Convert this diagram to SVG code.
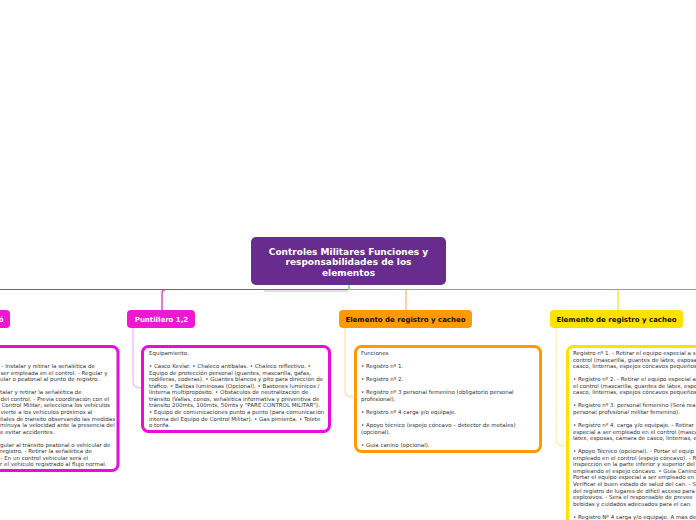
<svg xmlns="http://www.w3.org/2000/svg" width="696" height="520" viewBox="0 0 696 520">
<style>
.title{font-family:"DejaVu Sans",Verdana,sans-serif;font-weight:bold;font-size:9px;fill:#fff;text-anchor:middle}
.lab{font-family:"DejaVu Sans",Verdana,sans-serif;font-weight:bold;font-size:7px;text-anchor:middle}
.body{font-family:"DejaVu Sans",Verdana,sans-serif;font-size:5.5px;fill:#333}
.box{fill:#fff;stroke-width:3}
.conn{fill:none;stroke-width:1.2}
</style>
<rect width="696" height="520" fill="#fff"/>
<g id="connectors">
  <path class="conn" d="M0,289.5 H348" stroke="#e01ccc" stroke-width="1.4"/>
  <path class="conn" d="M264,291 H348" stroke="#cf9ee8" stroke-width="1.2" opacity="0.8"/>
  <path class="conn" d="M349,285 V289.5 H696" stroke="#3ee02a" stroke-width="1.6"/>
  <path class="conn" d="M162,310 V293 Q162,290 165,290" stroke="#e01ccc"/>
  <path class="conn" d="M406,310 V290" stroke="#ffb64a"/>
  <path class="conn" d="M618,310 V290" stroke="#ffe100"/>
  <path class="conn" d="M133,328 V382 Q133,388 141,388" stroke="#f7b3ee"/>
  <path class="conn" d="M345,328 V391 Q345,397 354,397" stroke="#ffdca8"/>
  <path class="conn" d="M556,328 V440 Q556,446 566,446" stroke="#fff0a0"/>
</g>
<g id="title">
  <rect x="251" y="237" width="195" height="48" rx="5" fill="#682c8f"/>
  <text class="title"><tspan x="348.5" y="254.5">Controles Militares Funciones y</tspan><tspan x="348.5" y="265">responsabilidades de los</tspan><tspan x="348.5" y="275.5">elementos</tspan></text>
</g>
<g id="node-left">
  <rect x="-20" y="310" width="30" height="18" rx="4" fill="#ec1acf"/>
  <text class="lab" x="3.5" y="322" style="text-anchor:end;fill:#fff">ó</text>
  <rect class="box" x="-100" y="346.5" width="218" height="124" rx="6" stroke="#ec0adc"/>
  <text class="body">
    <tspan x="1.5" y="368.1">- Instalar y retirar la señalética de</tspan>
    <tspan x="0.5" y="374.65">ser empleada en el control. - Regular y</tspan>
    <tspan x="0" y="381.2">ular o peatonal al punto de registro.</tspan>
    <tspan x="0" y="394.3">talar y retirar la señalética de</tspan>
    <tspan x="0.5" y="400.85">del control. - Previa coordinación con el</tspan>
    <tspan x="1.5" y="407.4">Control Militar, selecciona los vehículos</tspan>
    <tspan x="0.5" y="413.95">vierte a los vehículos próximos al</tspan>
    <tspan x="0" y="420.5">ñales de transito observando las medidas</tspan>
    <tspan x="0" y="427.05">minuya la velocidad ante la presencia del</tspan>
    <tspan x="0" y="433.6">e evitar accidentes.</tspan>
    <tspan x="0" y="446.7">gular al tránsito peatonal o vehicular de</tspan>
    <tspan x="0" y="453.25">registro. - Retirar la señalética de</tspan>
    <tspan x="0.5" y="459.8">- En un control vehicular será el</tspan>
    <tspan x="0" y="466.35">r el vehículo registrado al flujo normal.</tspan>
  </text>
</g>
<g id="node-puntillero">
  <rect x="127" y="310" width="68" height="18" rx="4" fill="#ec1acf"/>
  <text class="lab" x="161.5" y="322" fill="#fff">Puntillero 1,2</text>
  <rect class="box" x="142.5" y="346.5" width="187" height="85" rx="6" stroke="#ec0adc"/>
  <text class="body">
    <tspan x="149" y="355">Equipamiento.</tspan>
    <tspan x="149" y="368.1">• Casco Kevlar. • Chaleco antibalas. • Chaleco reflectivo. •</tspan>
    <tspan x="149" y="374.65">Equipo de protección personal (guantes, mascarilla, gafas,</tspan>
    <tspan x="149" y="381.2">rodilleras, coderas). • Guantes blancos y pito para dirección de</tspan>
    <tspan x="149" y="387.75">tráfico. • Balizas luminosas (Opcional). • Bastones lumínicos /</tspan>
    <tspan x="149" y="394.3">linterna multipropósito. • Obstáculos de neutralización de</tspan>
    <tspan x="149" y="400.85">tránsito (Vallas, conos, señalética informativa y preventiva de</tspan>
    <tspan x="149" y="407.4">tránsito 200mts, 100mts, 50mts y "PARE CONTROL MILITAR").</tspan>
    <tspan x="149" y="413.95">• Equipo de comunicaciones punto a punto (para comunicación</tspan>
    <tspan x="149" y="420.5">interna del Equipo de Control Militar). • Gas pimienta. • Tolete</tspan>
    <tspan x="149" y="427.05">o tonfa.</tspan>
  </text>
</g>
<g id="node-registro-1">
  <rect x="339" y="310" width="133" height="18" rx="4" fill="#ff9a00"/>
  <text class="lab" x="405.5" y="322" fill="#111">Elemento de registro y cacheo</text>
  <rect class="box" x="355.5" y="346.5" width="185" height="105" rx="6" stroke="#ff9a00"/>
  <text class="body">
    <tspan x="361" y="355">Funciones</tspan>
    <tspan x="361" y="368.1">• Registro nº 1.</tspan>
    <tspan x="361" y="381.2">• Registro nº 2.</tspan>
    <tspan x="361" y="394.3">• Registro nº 3 personal femenino (obligatorio personal</tspan>
    <tspan x="361" y="400.85">profesional).</tspan>
    <tspan x="361" y="413.95">• Registro nº 4 carga y/o equipaje.</tspan>
    <tspan x="361" y="427.05">• Apoyo técnico (espejo cóncavo – detector de metales)</tspan>
    <tspan x="361" y="433.6">(opcional).</tspan>
    <tspan x="361" y="446.7">• Guía canino (opcional).</tspan>
  </text>
</g>
<g id="node-registro-2">
  <rect x="550" y="310" width="133" height="18" rx="4" fill="#ffe100"/>
  <text class="lab" x="616.5" y="322" fill="#111">Elemento de registro y cacheo</text>
  <rect class="box" x="567.5" y="346.5" width="200" height="250" rx="6" stroke="#ffe100"/>
  <text class="body">
    <tspan x="573" y="355">Registro nº 1. - Retirar el equipo especial a s</tspan>
    <tspan x="573" y="361.55">control (mascarilla, guantes de látex, esposa</tspan>
    <tspan x="573" y="368.1">casco, linternas, espejos cóncavos pequeños</tspan>
    <tspan x="573" y="381.2">• Registro nº 2. - Retirar el equipo especial a</tspan>
    <tspan x="573" y="387.75">el control (mascarilla, guantes de látex, espo</tspan>
    <tspan x="573" y="394.3">casco, linternas, espejos cóncavos pequeños</tspan>
    <tspan x="573" y="407.4">• Registro nº 3. personal femenino (Será rea</tspan>
    <tspan x="573" y="413.95">personal profesional militar femenino).</tspan>
    <tspan x="573" y="427.05">• Registro nº 4. carga y/o equipaje. - Retirar</tspan>
    <tspan x="573" y="433.6">especial a ser empleado en el control (masca</tspan>
    <tspan x="573" y="440.15">látex, esposas, cámara de casco, linternas, e</tspan>
    <tspan x="573" y="453.25">• Apoyo Técnico (opcional). - Portar el equip</tspan>
    <tspan x="573" y="459.8">empleado en el control (espejo cóncavo). - R</tspan>
    <tspan x="573" y="466.35">inspección en la parte inferior y superior del</tspan>
    <tspan x="573" y="472.9">empleando el espejo cóncavo. • Guía Canino</tspan>
    <tspan x="573" y="479.45">Portar el equipo especial a ser empleado en</tspan>
    <tspan x="573" y="486">Verificar el buen estado de salud del can. - S</tspan>
    <tspan x="573" y="492.55">del registro de lugares de difícil acceso para</tspan>
    <tspan x="573" y="499.1">explosivos. - Será el responsable de prevee</tspan>
    <tspan x="573" y="505.65">bebidas y cuidados adecuados para el can.</tspan>
    <tspan x="573" y="518.75">• Registro Nº 4 carga y/o equipaje. A más de</tspan>
  </text>
</g>
</svg>
